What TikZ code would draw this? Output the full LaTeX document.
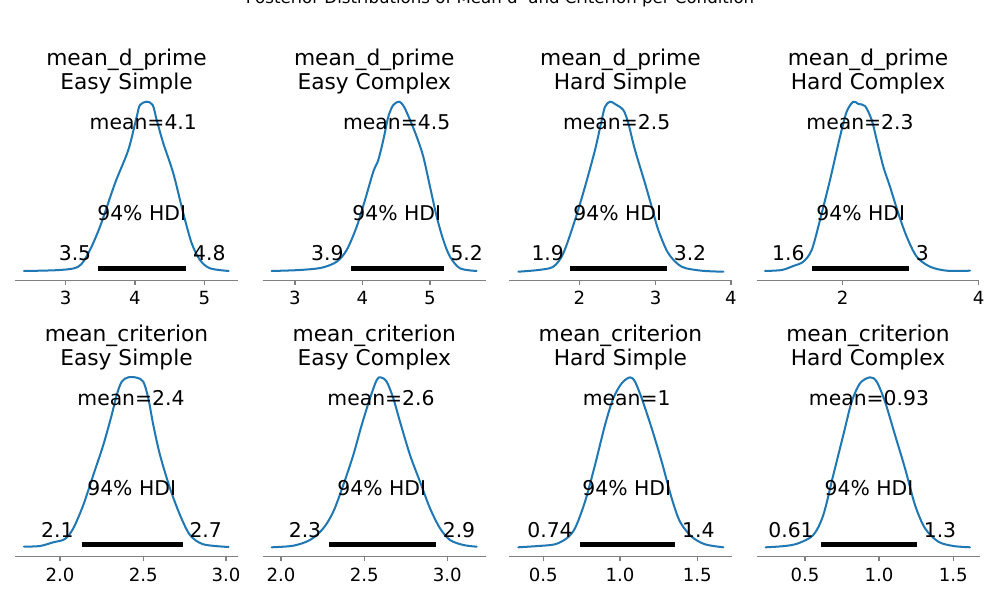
\documentclass[tikz,border=0pt]{standalone}
\usepackage{fontspec}
\setmainfont{DejaVu Sans}
\definecolor{cblue}{HTML}{1F77B4}
\definecolor{spinegray}{HTML}{808080}
\tikzset{
  density/.style={draw=cblue, line width=1.45pt, line join=round, line cap=round},
  hdibar/.style={draw=black, line width=3.4pt},
  spine/.style={draw=spinegray, line width=0.8pt},
  tickmark/.style={draw=spinegray, line width=0.8pt},
  ttl/.style={font=\fontsize{15.7}{18}\selectfont, anchor=base, inner sep=0pt},
  ann/.style={font=\fontsize{14.7}{17}\selectfont, anchor=base, inner sep=0pt},
  ticklab/.style={font=\fontsize{13.1}{15}\selectfont, anchor=base, inner sep=0pt},
  suptitle/.style={font=\fontsize{12}{14}\selectfont, anchor=base, inner sep=0pt},
}
\begin{document}
\begin{tikzpicture}[x=0.01in, y=-0.01in]
\useasboundingbox (0,0) rectangle (1000,600);
\clip (0,0) rectangle (1000,600);
\fill[white] (0,0) rectangle (1000,600);

\node[suptitle] (sup) at (500,3.5) {Posterior Distributions of Mean d' and Criterion per Condition};

% ================= Row 1 =================
% ---- Panel 1
\node[ttl] (p1t1) at (126.5,65.5) {mean\_d\_prime};
\node[ttl] (p1t2) at (126.5,89.5) {Easy Simple};
\draw[spine] (15,280.7) -- (238,280.7);
\draw[tickmark] (65.7,280.7) -- ++(0,4.5);
\draw[tickmark] (135,280.7) -- ++(0,4.5);
\draw[tickmark] (204.3,280.7) -- ++(0,4.5);
\node[ticklab] (p1x1) at (65.7,304.9) {3};
\node[ticklab] (p1x2) at (135,304.9) {4};
\node[ticklab] (p1x3) at (204.3,304.9) {5};
\draw[density] plot[smooth, tension=0.5] coordinates {(24,271) (60,270) (78.3,266.7) (88.3,253.3) (100,226.7) (115,183.3) (128.3,150) (136.7,116.7) (140,105) (146.7,101.7) (152.7,105) (156.7,120) (163.3,143.3) (173.3,173.3) (183.3,213.3) (191.7,243.3) (200,260) (210,268.3) (228.7,271)};
\draw[hdibar] (98.3,268.7) -- (185.7,268.7);
\node[ann] (p1m) at (143.3,129.1) {mean=4.1};
\node[ann] (p1h) at (141.7,220.1) {94\% HDI};
\node[ann] (p1l) at (75,260.7) {3.5};
\node[ann] (p1r) at (209.3,260.7) {4.8};

% ---- Panel 2
\node[ttl] (p2t1) at (374.3,65.5) {mean\_d\_prime};
\node[ttl] (p2t2) at (374.3,89.5) {Easy Complex};
\draw[spine] (262.7,280.7) -- (486,280.7);
\draw[tickmark] (295,280.7) -- ++(0,4.5);
\draw[tickmark] (362.3,280.7) -- ++(0,4.5);
\draw[tickmark] (430,280.7) -- ++(0,4.5);
\node[ticklab] (p2x1) at (295,304.9) {3};
\node[ticklab] (p2x2) at (362.3,304.9) {4};
\node[ticklab] (p2x3) at (430,304.9) {5};
\draw[density] plot[smooth, tension=0.5] coordinates {(271.7,271) (300,270) (321.7,267.7) (336.7,261.7) (346.7,250) (356.7,226.7) (365,200) (373.3,171.7) (378.3,160) (383.3,140) (388.3,116.7) (393.3,105) (399.3,101.7) (404,106.7) (410,120) (416.7,136.7) (423.3,156.7) (430,186.7) (436.7,216.7) (443.3,240) (450,256.7) (460,268.3) (476.7,271)};
\draw[hdibar] (351,268.7) -- (444,268.7);
\node[ann] (p2m) at (396.7,129.1) {mean=4.5};
\node[ann] (p2h) at (396.7,220.1) {94\% HDI};
\node[ann] (p2l) at (327.3,260.7) {3.9};
\node[ann] (p2r) at (466.7,260.7) {5.2};

% ---- Panel 3
\node[ttl] (p3t1) at (620.4,65.5) {mean\_d\_prime};
\node[ttl] (p3t2) at (620.4,89.5) {Hard Simple};
\draw[spine] (509,280.7) -- (731.7,280.7);
\draw[tickmark] (579.3,280.7) -- ++(0,4.5);
\draw[tickmark] (655.7,280.7) -- ++(0,4.5);
\draw[tickmark] (731,280.7) -- ++(0,4.5);
\node[ticklab] (p3x1) at (579.3,304.9) {2};
\node[ticklab] (p3x2) at (655.7,304.9) {3};
\node[ticklab] (p3x3) at (731,304.9) {4};
\draw[density] plot[smooth, tension=0.5] coordinates {(518.3,271.7) (538.3,270) (553.3,266.7) (563.3,253.3) (575,220) (585,186.7) (595,150) (601,123.3) (605,106.7) (610,101.7) (615,104) (623.3,110) (628.3,123.3) (635,150) (645,183.3) (651.7,206.7) (658.3,230) (668.3,253.3) (681.7,266.7) (701.7,270.7) (723.3,271.7)};
\draw[hdibar] (570,268.7) -- (666.7,268.7);
\node[ann] (p3m) at (616.7,129.1) {mean=2.5};
\node[ann] (p3h) at (617.7,220.1) {94\% HDI};
\node[ann] (p3l) at (547.7,260.7) {1.9};
\node[ann] (p3r) at (690,260.7) {3.2};

% ---- Panel 4
\node[ttl] (p4t1) at (868,65.5) {mean\_d\_prime};
\node[ttl] (p4t2) at (868,89.5) {Hard Complex};
\draw[spine] (756.7,280.7) -- (979.3,280.7);
\draw[tickmark] (842.7,280.7) -- ++(0,4.5);
\draw[tickmark] (978.7,280.7) -- ++(0,4.5);
\node[ticklab] (p4x1) at (842.7,304.9) {2};
\node[ticklab] (p4x2) at (978.7,304.9) {4};
\draw[density] plot[smooth, tension=0.5] coordinates {(765,271) (781.7,270) (793.3,266) (803.3,261.7) (811.7,250) (820,220) (830,180) (840,136.7) (846.7,111.7) (853.3,101.7) (858.3,104) (865,106) (871.7,120) (876.7,140) (883.3,166.7) (890,186.7) (898.3,213.3) (906.7,236.7) (916.7,256.7) (930,266.7) (946.7,270.7) (970,270.7)};
\draw[hdibar] (811.7,268.7) -- (909,268.7);
\node[ann] (p4m) at (860,129.1) {mean=2.3};
\node[ann] (p4h) at (860.7,220.1) {94\% HDI};
\node[ann] (p4l) at (788.3,260.7) {1.6};
\node[ann] (p4r) at (922.3,260.7) {3};

% ================= Row 2 =================
% ---- Panel 5
\node[ttl] (p5t1) at (126.5,342) {mean\_criterion};
\node[ttl] (p5t2) at (126.5,366) {Easy Simple};
\draw[spine] (15,556.7) -- (238.3,556.7);
\draw[tickmark] (60,556.7) -- ++(0,4.5);
\draw[tickmark] (143.3,556.7) -- ++(0,4.5);
\draw[tickmark] (226,556.7) -- ++(0,4.5);
\node[ticklab] (p5x1) at (60,581.6) {2.0};
\node[ticklab] (p5x2) at (143.3,581.6) {2.5};
\node[ticklab] (p5x3) at (226,581.6) {3.0};
\draw[density] plot[smooth, tension=0.5] coordinates {(24,546.7) (40,546) (53.3,542.3) (65,539) (73.3,528.3) (83.3,505) (93.3,475) (103.3,445) (111.7,415) (116.7,395) (121.7,381.7) (128.3,377.3) (136.7,377.7) (143.3,381.7) (148.3,398.3) (153.3,425) (160,455) (170,488.3) (180,515) (190,535) (203.3,544.3) (228.7,547)};
\draw[hdibar] (81.7,544.7) -- (182.7,544.7);
\node[ann] (p5m) at (131,405.7) {mean=2.4};
\node[ann] (p5h) at (131.7,495.7) {94\% HDI};
\node[ann] (p5l) at (57.3,537.4) {2.1};
\node[ann] (p5r) at (205.7,537.4) {2.7};

% ---- Panel 6
\node[ttl] (p6t1) at (374.3,342) {mean\_criterion};
\node[ttl] (p6t2) at (374.3,366) {Easy Complex};
\draw[spine] (262.7,556.7) -- (486,556.7);
\draw[tickmark] (281,556.7) -- ++(0,4.5);
\draw[tickmark] (364.3,556.7) -- ++(0,4.5);
\draw[tickmark] (447.3,556.7) -- ++(0,4.5);
\node[ticklab] (p6x1) at (281,581.6) {2.0};
\node[ticklab] (p6x2) at (364.3,581.6) {2.5};
\node[ticklab] (p6x3) at (447.3,581.6) {3.0};
\draw[density] plot[smooth, tension=0.5] coordinates {(271.7,547.3) (293.3,545.7) (310,540) (323.3,528.3) (333.3,511.7) (343.3,485) (353.3,455) (361.7,425) (370,398.3) (376.7,380) (380.7,377.3) (386.7,381.7) (393.3,398.3) (400,421.7) (410,455) (420,481.7) (430,508.3) (440,528.3) (450,540) (463.3,545) (476.7,546.7)};
\draw[hdibar] (329,544.7) -- (436,544.7);
\node[ann] (p6m) at (381,405.7) {mean=2.6};
\node[ann] (p6h) at (381.7,495.7) {94\% HDI};
\node[ann] (p6l) at (305,537.4) {2.3};
\node[ann] (p6r) at (459,537.4) {2.9};

% ---- Panel 7
\node[ttl] (p7t1) at (620.4,342) {mean\_criterion};
\node[ttl] (p7t2) at (620.4,366) {Hard Simple};
\draw[spine] (509,556.7) -- (732.3,556.7);
\draw[tickmark] (543.3,556.7) -- ++(0,4.5);
\draw[tickmark] (620,556.7) -- ++(0,4.5);
\draw[tickmark] (697.3,556.7) -- ++(0,4.5);
\node[ticklab] (p7x1) at (543.3,581.6) {0.5};
\node[ticklab] (p7x2) at (620,581.6) {1.0};
\node[ticklab] (p7x3) at (697.3,581.6) {1.5};
\draw[density] plot[smooth, tension=0.5] coordinates {(518.3,547.3) (538.3,546) (555,544.3) (566.7,538.3) (575,528.3) (585,501.7) (595,465) (605,425) (613.3,398.3) (621.7,383.3) (630,377.3) (635,381.7) (641.7,398.3) (651.7,428.3) (661.7,461.7) (671.7,498.3) (680,521.7) (691.7,536.7) (705,544.3) (723.3,547.3)};
\draw[hdibar] (580,544.7) -- (675,544.7);
\node[ann] (p7m) at (626.7,405.7) {mean=1};
\node[ann] (p7h) at (626.7,495.7) {94\% HDI};
\node[ann] (p7l) at (550,537.4) {0.74};
\node[ann] (p7r) at (698.3,537.4) {1.4};

% ---- Panel 8
\node[ttl] (p8t1) at (868,342) {mean\_criterion};
\node[ttl] (p8t2) at (868,366) {Hard Complex};
\draw[spine] (756.7,556.7) -- (980,556.7);
\draw[tickmark] (805,556.7) -- ++(0,4.5);
\draw[tickmark] (879,556.7) -- ++(0,4.5);
\draw[tickmark] (953.3,556.7) -- ++(0,4.5);
\node[ticklab] (p8x1) at (805,581.6) {0.5};
\node[ticklab] (p8x2) at (879,581.6) {1.0};
\node[ticklab] (p8x3) at (953.3,581.6) {1.5};
\draw[density] plot[smooth, tension=0.5] coordinates {(765.7,547.3) (785,546) (798.3,543.3) (813.3,535) (823.3,515) (833.3,475) (843.3,435) (851.7,401.7) (860,383.3) (870,377.3) (876.7,381.7) (885,401.7) (895,435) (905,468.3) (915,505) (925,528.3) (938.3,541.7) (953.3,546) (970,547.3)};
\draw[hdibar] (821,544.7) -- (917.3,544.7);
\node[ann] (p8m) at (869,405.7) {mean=0.93};
\node[ann] (p8h) at (869,495.7) {94\% HDI};
\node[ann] (p8l) at (791,537.4) {0.61};
\node[ann] (p8r) at (940,537.4) {1.3};
\end{tikzpicture}
\end{document}
